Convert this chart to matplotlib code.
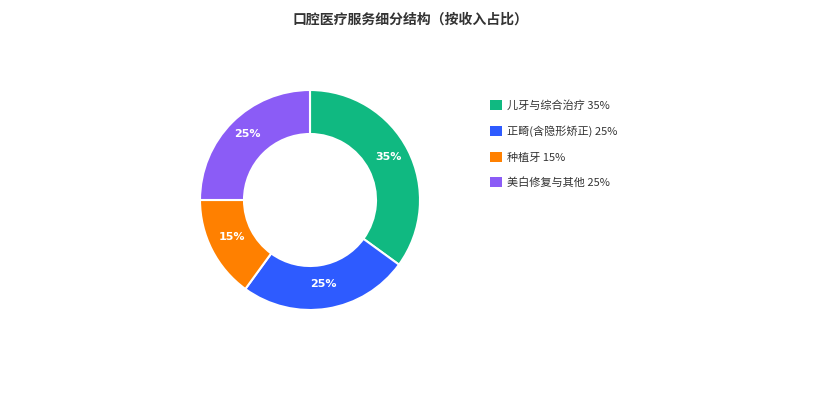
import matplotlib
matplotlib.use("Agg")
import matplotlib.pyplot as plt
from matplotlib.patches import Patch
import numpy as np

plt.rcParams['font.family'] = ['Noto Sans CJK SC', 'DejaVu Sans']

# data
labels = ["儿牙与综合治疗", "正畸(含隐形矫正)", "种植牙", "美白修复与其他"]
values = [35, 25, 15, 25]
colors = ["#10B981", "#2E5BFF", "#FF8000", "#8B5CF6"]

fig = plt.figure(figsize=(8.2, 4), dpi=100)
fig.patch.set_facecolor("white")

fig.text(0.5, 1 - 20 / 400, "口腔医疗服务细分结构（按收入占比）", ha="center", va="center",
         fontsize=10, fontweight="bold", color="#333333")

ax = fig.add_axes([200 / 820, 90 / 400, 220 / 820, 220 / 400])
wedges, texts = ax.pie(values, colors=colors, startangle=90, counterclock=False,
                       radius=1.0, wedgeprops=dict(width=0.4, edgecolor="white", linewidth=1.5))
ax.set_aspect("equal")
ax.set_xlim(-1.0, 1.0)
ax.set_ylim(-1.0, 1.0)

# percent labels in the middle of the ring
for w, v in zip(wedges, values):
    ang = np.deg2rad((w.theta1 + w.theta2) / 2)
    r = 0.8
    ax.text(r * np.cos(ang), r * np.sin(ang) + 0.03, f"{v}%", ha="center", va="center",
            fontsize=8, fontweight="bold", color="white", family="DejaVu Sans")

handles = [Patch(facecolor=c, edgecolor="none") for c in colors]
leg_labels = [f"{l} {v}%" for l, v in zip(labels, values)]
fig.legend(handles, leg_labels, loc="upper left", bbox_to_anchor=(486 / 820, 1 - 96 / 400),
           frameon=False, fontsize=8, labelcolor="#333333", handlelength=1.0, handleheight=1.0,
           handletextpad=0.45, labelspacing=1.3, borderaxespad=0)

fig.savefig("out.png", dpi=100, facecolor="white")
